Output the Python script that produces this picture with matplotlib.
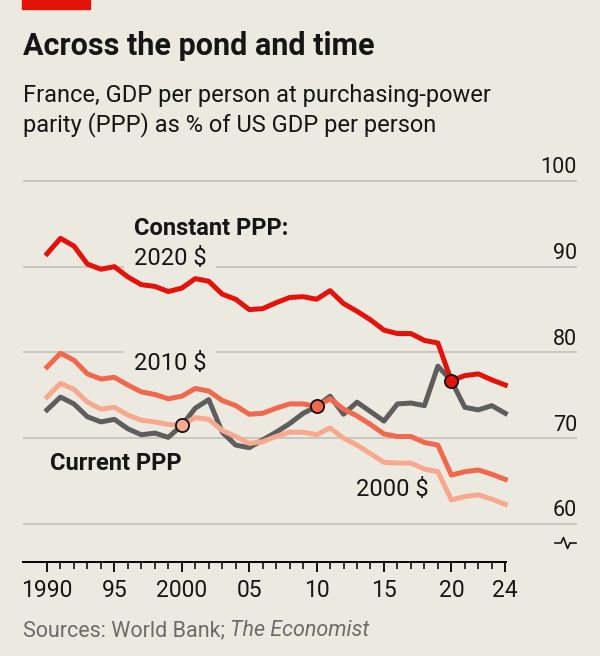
import matplotlib
matplotlib.use("Agg")
import matplotlib.pyplot as plt
from matplotlib.patches import Rectangle
from matplotlib.lines import Line2D

years = list(range(1990, 2025))

# France GDP per person as % of US
ppp_2020 = [91.5, 93.3, 92.4, 90.3, 89.7, 90.0, 88.8, 87.9, 87.7, 87.1,
            87.5, 88.6, 88.3, 86.8, 86.2, 85.0, 85.1, 85.8, 86.4, 86.5,
            86.2, 87.2, 85.7, 84.8, 83.8, 82.6, 82.2, 82.2, 81.4, 81.1,
            76.7, 77.3, 77.5, 76.8, 76.2]
ppp_2010 = [78.3, 79.9, 79.1, 77.5, 76.9, 77.1, 76.2, 75.4, 75.1, 74.6,
            74.9, 75.8, 75.5, 74.4, 73.8, 72.8, 72.9, 73.5, 74.0, 74.0,
            73.7, 74.6, 73.4, 72.6, 71.6, 70.5, 70.2, 70.2, 69.5, 69.2,
            65.7, 66.1, 66.3, 65.8, 65.2]
ppp_2000 = [74.8, 76.4, 75.7, 74.2, 73.4, 73.6, 72.7, 72.1, 71.9, 71.6,
            71.5, 72.4, 72.2, 70.9, 70.2, 69.4, 69.6, 70.2, 70.7, 70.7,
            70.4, 71.2, 70.0, 69.2, 68.2, 67.2, 67.1, 67.1, 66.4, 66.1,
            62.8, 63.2, 63.4, 62.9, 62.3]
ppp_current = [73.3, 74.8, 74.0, 72.5, 71.9, 72.2, 71.1, 70.4, 70.6, 70.1,
               71.5, 73.5, 74.5, 70.7, 69.2, 68.9, 69.8, 70.7, 71.7, 72.9,
               73.7, 74.9, 72.8, 74.2, 73.1, 72.0, 74.0, 74.1, 73.8, 78.4,
               76.7, 73.6, 73.3, 73.8, 72.9]

y_ticks = [60, 70, 80, 90, 100]
x_major = [1990, 1995, 2000, 2005, 2010, 2015, 2020, 2024]
x_labels = ["1990", "95", "2000", "05", "10", "15", "20", "24"]

BG = "#ECEAE0"
RED = "#E3120B"
ORANGE = "#F0694E"
PINK = "#F7A98F"
GREY = "#5E5E5E"
GRID = "#C6C5BD"
INK = "#161616"

plt.rcParams['font.family'] = ['Roboto', 'DejaVu Sans']

fig = plt.figure(figsize=(6, 6.56), dpi=100, facecolor=BG)
ax = fig.add_axes([23 / 600, 94 / 656, 554 / 600, 412 / 656])
ax.set_facecolor(BG)
ax.set_xlim(1988.22, 2029.32)
ax.set_ylim(55.57, 103.6)

# gridlines + labels on the right
for v in y_ticks:
    ax.axhline(v, color=GRID, lw=1.3, zorder=1)
    ax.annotate(str(v), xy=(1, v), xycoords=("axes fraction", "data"),
                xytext=(0, 5.5), textcoords="offset points",
                ha="right", va="baseline", fontsize=15.5, color=INK)

# lines
ax.plot(years, ppp_current, color=GREY, lw=3.6, zorder=3, solid_joinstyle="round")
ax.plot(years, ppp_2000, color=PINK, lw=3.6, zorder=4, solid_joinstyle="round")
ax.plot(years, ppp_2010, color=ORANGE, lw=3.6, zorder=5, solid_joinstyle="round")
ax.plot(years, ppp_2020, color=RED, lw=3.6, zorder=6, solid_joinstyle="round")

# marker dots where the base year matches
i00, i10, i20 = years.index(2000), years.index(2010), years.index(2020)
ax.plot(years[i00], ppp_2000[i00], "o", ms=9.5, mfc=PINK, mec="#111111", mew=1.3, zorder=7)
ax.plot(years[i10], ppp_2010[i10], "o", ms=9.5, mfc=ORANGE, mec="#111111", mew=1.3, zorder=7)
ax.plot(years[i20], ppp_2020[i20], "o", ms=9.5, mfc=RED, mec="#111111", mew=1.3, zorder=7)

# series labels
box = dict(boxstyle="square,pad=0.4", fc=BG, ec="none")
ax.text(1996.45, 94.5, "Constant PPP:", fontsize=17, fontweight="bold",
        color=INK, va="center", ha="left", zorder=2)
ax.text(1996.45, 91.0, "2020 $", fontsize=17, color=INK,
        va="center", ha="left", bbox=box, zorder=2)
ax.text(1996.45, 78.7, "2010 $", fontsize=17, color=INK,
        va="center", ha="left", bbox=box, zorder=2)
ax.text(1990.2, 67.1, "Current PPP", fontsize=17, fontweight="bold",
        color=INK, va="center", ha="left", zorder=2)
ax.text(2012.9, 64.0, "2000 $", fontsize=17, color=INK,
        va="center", ha="left", zorder=2)

# axes styling
for s in ["top", "left", "right"]:
    ax.spines[s].set_visible(False)
ax.spines["bottom"].set_bounds(1988.22, 2024.05)
ax.spines["bottom"].set_linewidth(1.4)
ax.set_yticks([])
ax.set_xticks(x_major)
ax.set_xticklabels(x_labels, fontsize=16.5, color=INK)
ax.set_xticks(years, minor=True)
ax.tick_params(axis="x", which="major", length=7.5, width=1.3, pad=5)
ax.tick_params(axis="x", which="minor", length=5, width=1.1)

# axis break sign below the 60 line
bx = [555, 561, 563.5, 567.5, 570, 576]
by = [543, 543, 537.5, 548.5, 543, 543]
ax.add_line(Line2D([(x - 23) / 554 for x in bx], [(562 - y) / 412 for y in by],
                   transform=ax.transAxes, color=INK, lw=1.2, clip_on=False))

# header
fig.patches.append(Rectangle((22 / 600, 1 - 9 / 656), 68 / 600, 9 / 656,
                             transform=fig.transFigure, color=RED))
fig.text(23 / 600, 1 - 55 / 656, "Across the pond and time", fontsize=22,
         fontweight="bold", color=INK, va="baseline", ha="left")
fig.text(23 / 600, 1 - 102 / 656, "France, GDP per person at purchasing-power",
         fontsize=17, color=INK, va="baseline", ha="left")
fig.text(23 / 600, 1 - 131.5 / 656, "parity (PPP) as % of US GDP per person",
         fontsize=17, color=INK, va="baseline", ha="left")

# source, italic part placed right after the plain part
src = fig.text(23 / 600, 1 - 636 / 656, "Sources: World Bank; ", fontsize=15.5,
               color="#6B6B6B", va="baseline", ha="left")
ax.annotate("The Economist", xy=(1, 0), xycoords=src, fontsize=15.5,
            color="#6B6B6B", style="italic", va="bottom", ha="left",
            annotation_clip=False)

fig.savefig("out.png", dpi=100, facecolor=BG)
